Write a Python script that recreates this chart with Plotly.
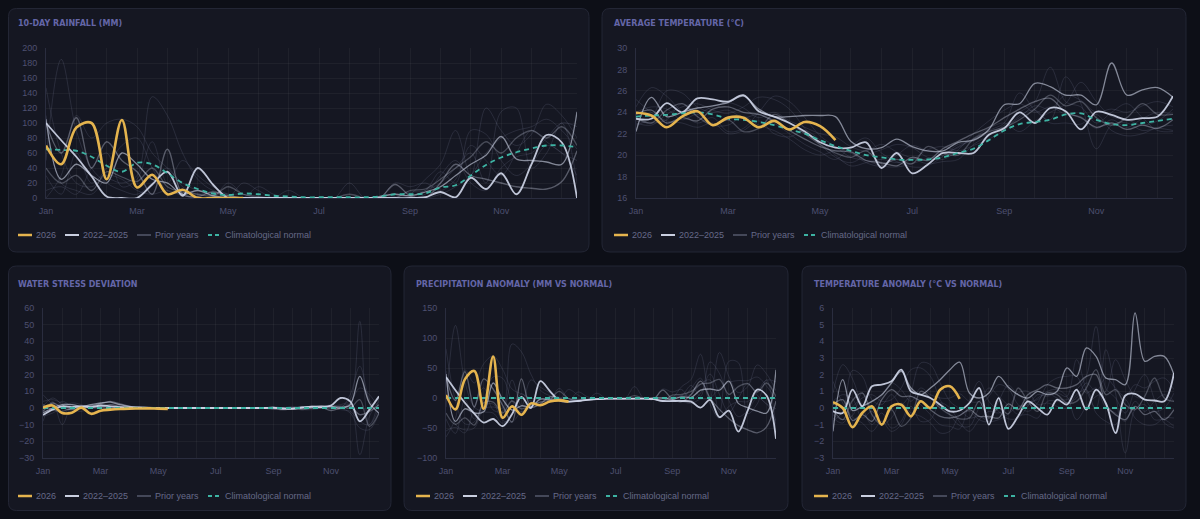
import plotly.graph_objects as go

# the page keeps the browser's 8px body margin, so the figure is 16px smaller
W, H = 1200, 519
OFF = 8
FW, FH = W - 2 * OFF, H - 2 * OFF

# dekads (10-day periods) of the year
DEKAD = list(range(36))
TICK_POS = list(range(0, 36, 2))
TICK_TEXT = ["Jan", "", "", "Mar", "", "", "May", "", "", "Jul", "", "", "Sep", "", "", "Nov", "", ""]

LEGEND_LABELS = ["2026", "2022\u20132025", "Prior years", "Climatological normal"]

# 10-day rainfall (mm)
RAIN_2026 = [70, 45, 94, 100, 25, 104, 14, 31, 5, 11, 0, 0, 0, 0]
RAIN_NORMAL = [65, 64, 63, 55, 43, 35, 47, 45, 33, 20, 12, 6, 4, 6, 5, 3, 2, 1, 1, 1, 1, 1, 2, 5, 5, 6, 14, 17, 30, 44, 54, 61, 66, 70, 70, 68]
RAIN_2025 = [100, 77, 55, 29, 2, 0, 0, 18, 35, 3, 40, 18, 0, 0, 0, 0, 0, 0, 0, 0, 0, 0, 0, 0, 0, 1, 8, 1, 27, 12, 33, 5, 45, 84, 74, 0]
RAIN_2024 = [105, 25, 45, 30, 20, 60, 45, 25, 20, 5, 10, 3, 0, 0, 0, 0, 0, 0, 0, 0, 0, 0, 2, 5, 3, 8, 15, 30, 45, 57, 82, 52, 50, 48, 45, 115]
RAIN_2023 = [100, 60, 107, 40, 75, 50, 35, 5, 65, 5, 2, 8, 3, 0, 0, 0, 0, 0, 0, 0, 0, 0, 0, 18, 3, 0, 20, 45, 30, 25, 20, 15, 13, 12, 22, 63]
RAIN_2022 = [40, 20, 30, 10, 35, 28, 22, 40, 15, 8, 5, 3, 15, 5, 2, 0, 0, 0, 0, 0, 5, 0, 0, 0, 10, 12, 25, 40, 55, 75, 60, 80, 90, 80, 95, 70]
RAIN_PRIOR = [
    [147, 60, 20, 15, 30, 25, 10, 5, 10, 3, 0, 0, 20, 5, 0, 0, 0, 0, 0, 0, 0, 0, 0, 0, 0, 5, 30, 50, 20, 10, 40, 55, 60, 80, 100, 95],
    [50, 185, 90, 40, 20, 10, 5, 20, 40, 15, 5, 8, 0, 0, 15, 5, 0, 0, 0, 0, 0, 0, 0, 20, 15, 20, 10, 25, 70, 50, 30, 60, 90, 75, 60, 50],
    [0, 30, 110, 80, 100, 105, 95, 60, 40, 20, 10, 5, 3, 0, 0, 0, 0, 0, 0, 0, 0, 0, 0, 0, 5, 25, 45, 90, 30, 120, 90, 70, 85, 125, 110, 80],
    [110, 20, 10, 5, 25, 20, 30, 135, 110, 60, 25, 10, 5, 5, 0, 0, 10, 0, 0, 0, 0, 0, 0, 0, 0, 10, 20, 40, 60, 20, 115, 120, 40, 60, 100, 20],
    [10, 15, 5, 40, 60, 15, 25, 75, 20, 50, 30, 15, 5, 0, 0, 0, 0, 0, 0, 0, 20, 0, 0, 0, 0, 0, 5, 15, 30, 60, 80, 90, 95, 105, 90, 65],
    [30, 5, 60, 20, 40, 70, 80, 40, 10, 5, 0, 0, 0, 20, 10, 0, 0, 0, 0, 0, 0, 0, 0, 2, 8, 10, 35, 20, 90, 85, 50, 30, 45, 70, 60, 30],
]

# average temperature (°C)
TEMP_2026 = [23.95, 23.7, 22.6, 23.6, 24.1, 22.8, 23.5, 23.5, 22.6, 23.2, 22.4, 23.1, 22.7, 21.4]
TEMP_NORMAL = [23.6, 23.7, 23.75, 23.9, 24.0, 23.8, 23.4, 23.3, 23.1, 22.8, 22.4, 22.0, 21.4, 20.85, 20.4, 20.0, 19.8, 19.6, 19.55, 19.6, 19.8, 20.2, 20.6, 21.4, 22.3, 22.9, 23.1, 23.3, 23.8, 23.9, 23.3, 22.9, 22.8, 23.0, 23.2, 23.4]
TEMP_2025 = [23.4, 23.4, 24.85, 24.0, 25.3, 25.2, 25.0, 25.6, 24.1, 23.6, 23.0, 22.2, 21.2, 20.7, 20.7, 21.2, 18.8, 20.2, 18.3, 19.1, 20.2, 20.2, 20.2, 21.9, 22.5, 24.0, 23.0, 24.4, 24.1, 22.4, 24.05, 23.75, 23.3, 23.45, 23.6, 25.5]
TEMP_2024 = [22.2, 25.4, 23.6, 24.0, 24.4, 24.6, 24.9, 25.5, 24.3, 23.6, 23.6, 23.7, 23.7, 23.6, 21.3, 20.6, 20.7, 21.5, 20.8, 20.4, 20.4, 21.2, 21.4, 22.4, 24.7, 24.8, 26.7, 26.4, 25.6, 25.6, 24.7, 28.6, 25.6, 26.1, 26.3, 25.4]
TEMP_2023 = [23.8, 24.2, 23.0, 23.5, 23.2, 24.3, 24.5, 24.0, 23.8, 23.2, 22.3, 21.5, 20.8, 20.4, 20.3, 19.5, 19.3, 19.0, 19.8, 19.5, 20.6, 21.3, 22.0, 22.6, 23.5, 24.3, 25.0, 25.3, 24.0, 23.5, 22.6, 23.0, 22.4, 22.8, 22.5, 23.3]
TEMP_2022 = [23.5, 23.0, 24.2, 24.8, 23.6, 22.8, 23.3, 22.2, 22.5, 23.8, 23.0, 22.0, 21.0, 20.2, 19.8, 20.4, 19.2, 19.6, 19.2, 20.8, 20.2, 20.0, 21.5, 22.2, 22.6, 23.3, 24.3, 25.6, 24.6, 25.0, 23.5, 22.8, 23.5, 24.8, 23.8, 23.8]
TEMP_PRIOR = [
    [24.5, 26.3, 25.5, 24.0, 23.0, 23.5, 22.2, 22.5, 24.0, 25.5, 25.0, 23.5, 21.8, 20.8, 19.8, 19.5, 19.0, 18.9, 19.2, 19.7, 20.0, 20.8, 21.5, 22.0, 22.8, 24.0, 25.0, 28.2, 25.0, 24.5, 23.0, 24.0, 24.8, 23.5, 22.3, 22.2],
    [22.8, 23.5, 26.0, 25.8, 24.5, 24.0, 24.2, 23.5, 23.8, 23.0, 22.0, 21.0, 20.3, 19.6, 20.8, 21.6, 20.2, 19.4, 18.9, 19.0, 19.9, 21.0, 21.3, 22.3, 23.0, 25.8, 24.2, 23.3, 27.3, 24.8, 20.6, 22.8, 23.0, 22.3, 22.5, 22.3],
    [23.0, 22.8, 23.8, 24.5, 24.8, 24.2, 23.9, 24.5, 25.4, 25.2, 24.3, 22.5, 21.0, 19.8, 19.3, 20.0, 20.5, 21.0, 20.7, 19.8, 19.6, 20.5, 22.0, 23.2, 24.2, 24.8, 24.0, 24.5, 23.8, 23.6, 22.5, 23.3, 22.6, 23.4, 24.0, 23.8],
    [24.0, 24.5, 24.3, 23.3, 23.8, 22.8, 22.8, 23.6, 22.8, 22.3, 21.5, 20.5, 20.0, 20.4, 20.2, 19.3, 19.0, 20.0, 20.9, 20.4, 20.2, 20.7, 21.6, 22.5, 23.0, 22.2, 23.2, 24.0, 24.8, 26.8, 25.0, 23.6, 23.3, 22.8, 23.2, 24.3],
    [25.2, 24.0, 23.2, 23.0, 22.6, 23.0, 22.0, 22.3, 23.2, 22.0, 21.7, 22.3, 21.4, 20.0, 19.0, 19.3, 19.6, 19.3, 19.6, 20.5, 20.8, 20.4, 20.9, 21.5, 22.3, 23.7, 24.2, 23.0, 23.0, 22.9, 23.8, 22.3, 21.8, 22.0, 22.6, 22.8],
    [23.2, 23.0, 23.3, 24.8, 24.0, 24.5, 24.9, 24.4, 23.5, 24.0, 23.2, 22.6, 22.0, 21.7, 20.8, 20.4, 21.0, 20.3, 19.7, 19.2, 19.4, 19.6, 21.0, 21.8, 22.6, 23.5, 24.6, 24.3, 25.6, 25.1, 24.0, 24.3, 24.0, 24.6, 25.0, 24.5],
]

# water stress deviation
WS_2026 = [0.2, 1.5, -3.0, -2.8, 0.2, -3.5, -1.6, -1.0, -0.6, -0.4, -0.3, -0.2, -0.4, -0.5]
WS_NORMAL = [0] * 36
WS_2025 = [-4.2, -1, 1, 0.5, 1, 0.5, 1.5, 1, 0.5, 0.3, 0.2, 0.1, 0, 0, 0, 0, 0, 0, 0, 0, 0, 0, 0, 0, 0.2, -0.3, -0.5, 0.3, 0.8, 0.5, 1.5, 6, 4, -8, -1, 7]
WS_2024 = [-3, 0, 2, 2, 1, 2, 3, 3.5, 2, 1, 0.5, 0.3, 0.2, 0, 0, 0, 0, 0, 0, 0, 0, 0, 0, 0, 0, -0.5, 0, 0.5, 1, 1.2, 1, 0, 2, 19, 3, -3]
WS_2023 = [-2, 3, 0, -1, 0.5, 1, 2.5, 4, 2.5, 1, 0.5, 0.2, 0, 0, 0, 0, 0, 0, 0, 0, 0, 0, 0, 0, -0.5, -1, -0.5, 0, 0.5, 0.5, -1.5, 0, 1, -4, -2, 2]
WS_2022 = [2, -1, -2, 0, 1, 1.5, 1, 2, 1, 0.5, 0, 0, 0, 0, 0, 0, 0, 0, 0, 0, 0, 0, 0, 0, 0.5, 0, -0.5, -1, 0, 1, 0.5, 1, 0, 5, -11, -3]
WS_PRIOR = [
    [8, 2, -3, 0, 1, 1, 0, 2, 1, 0, 0, 0, 0, 0, 0, 0, 0, 0, 0, 0, 0, 0, 0, 0, 0, 0, 0, 0, 0.5, 0, 1, 2, 5, 52, -10, 0],
    [-8, 4, -10, 1, 0, 0, 1, 0, 0, 0, 0, 0, 0, 0, 0, 0, 0, 0, 0, 0, 0, 0, 0, 0, 0, 0, 0, 0, 0, 0, 0, 1, 2, -28, -5, 4],
    [4, 5, 3, 2, 1, 0, 0, 1, 0, 0, 0, 0, 0, 0, 0, 0, 0, 0, 0, 0, 0, 0, 0, 0, 0, 0, 0, -1, -1, 0, 2, 0, -3, -12, -13, -3],
    [-5, -3, 0, 3, 2, 0, 1, 1, 0, 0, 0, 0, 0, 0, 0, 0, 0, 0, 0, 0, 0, 0, 0, 0, 0, 0, 1, 0, 0, 0, 1, 0, 3, 12, 8, 0],
    [1, 6, 2, -1, -2, 0, 0, 0, 0, 0, 0, 0, 0, 0, 0, 0, 0, 0, 0, 0, 0, 0, 0, 0, 0, 0, 0, 0, 0, 0, 0, -1, -2, -8, -10, 6],
    [-2, -1, 4, 1, 0, 1, 0, 0, 1, 0, 0, 0, 0, 0, 0, 0, 0, 0, 0, 0, 0, 0, 0, 0, 0, -1, 0, 1, 0, 0, 0, 0, 8, 25, 5, -4],
]


def anomaly(series, normal):
    return [round(v - n, 2) for v, n in zip(series, normal)]


BG = "#0d0f17"
CARD = "#151722"
CARD_EDGE = "#232635"
GRID = "rgba(255,255,255,0.045)"
AXIS_LINE = "#2a2d3f"
TICK_COLOR = "#4d5070"
LEGEND_COLOR = "#666a88"
TITLE_COLOR = "#6466a8"
GOLD = "#e5b44e"
TEAL = "#3db3a3"
RECENT_RGB = "205,212,230"
RECENT_ALPHA = [0.92, 0.6, 0.36, 0.28]
PRIOR_COLOR = "rgba(125,130,158,0.2)"


def fx(px):
    return (px - OFF) / FW


def fy(py):
    return 1 - (py - OFF) / FH


def rounded_card(l, t, r, b, rad=8):
    l, t = max(l, OFF + 0.5), max(t, OFF + 0.5)
    r, b = min(r, W - OFF - 0.5), min(b, H - OFF - 0.5)
    p = [
        f"M{fx(l + rad)},{fy(t)}", f"L{fx(r - rad)},{fy(t)}",
        f"Q{fx(r)},{fy(t)} {fx(r)},{fy(t + rad)}", f"L{fx(r)},{fy(b - rad)}",
        f"Q{fx(r)},{fy(b)} {fx(r - rad)},{fy(b)}", f"L{fx(l + rad)},{fy(b)}",
        f"Q{fx(l)},{fy(b)} {fx(l)},{fy(b - rad)}", f"L{fx(l)},{fy(t + rad)}",
        f"Q{fx(l)},{fy(t)} {fx(l + rad)},{fy(t)}", "Z",
    ]
    return " ".join(p)


fig = go.Figure()
shapes = []
annotations = []

# (card box, plot box) in page pixels: left, top, right, bottom
panels = [
    dict(card=(6, 6, 589, 252), plot=(46, 48, 577, 198), title="10-DAY RAINFALL (MM)",
         yr=(0, 200), dt=20, cur=RAIN_2026, recent=[RAIN_2025, RAIN_2024, RAIN_2023, RAIN_2022],
         prior=RAIN_PRIOR, normal=RAIN_NORMAL),
    dict(card=(602, 6, 1186, 252), plot=(636, 48, 1173, 198), title="AVERAGE TEMPERATURE (\u00b0C)",
         yr=(16, 30), dt=2, cur=TEMP_2026, recent=[TEMP_2025, TEMP_2024, TEMP_2023, TEMP_2022],
         prior=TEMP_PRIOR, normal=TEMP_NORMAL),
    dict(card=(6, 266, 391, 513), plot=(43, 308, 379, 458), title="WATER STRESS DEVIATION",
         yr=(-30, 60), dt=10, cur=WS_2026, recent=[WS_2025, WS_2024, WS_2023, WS_2022],
         prior=WS_PRIOR, normal=WS_NORMAL),
    dict(card=(404, 266, 788, 513), plot=(446, 308, 776, 458), title="PRECIPITATION ANOMALY (MM VS NORMAL)",
         yr=(-100, 150), dt=50, cur=anomaly(RAIN_2026, RAIN_NORMAL),
         recent=[anomaly(s, RAIN_NORMAL) for s in [RAIN_2025, RAIN_2024, RAIN_2023, RAIN_2022]],
         prior=[anomaly(s, RAIN_NORMAL) for s in RAIN_PRIOR], normal=anomaly(RAIN_NORMAL, RAIN_NORMAL)),
    dict(card=(802, 266, 1186, 513), plot=(833, 308, 1174, 458), title="TEMPERATURE ANOMALY (\u00b0C VS NORMAL)",
         yr=(-3, 6), dt=1, cur=anomaly(TEMP_2026, TEMP_NORMAL),
         recent=[anomaly(s, TEMP_NORMAL) for s in [TEMP_2025, TEMP_2024, TEMP_2023, TEMP_2022]],
         prior=[anomaly(s, TEMP_NORMAL) for s in TEMP_PRIOR], normal=anomaly(TEMP_NORMAL, TEMP_NORMAL)),
]

# legend swatch / text offsets from the card's left edge
SWATCH_X = [12, 59, 131, 202]
TEXT_X = [28, 75, 147, 217]
SWATCHES = [
    dict(color=GOLD, width=2.5),
    dict(color="#c9cfe0", width=2),
    dict(color="#444859", width=2),
    dict(color=TEAL, width=2, dash="4px,3px"),
]

layout_axes = {}
for k, p in enumerate(panels, start=1):
    sfx = "" if k == 1 else str(k)
    xa, ya = "x" + sfx, "y" + sfx
    l, t, r, b = p["plot"]
    common = dict(hoverinfo="skip", xaxis=xa, yaxis=ya, showlegend=False, mode="lines")

    for s in p["prior"]:
        fig.add_trace(go.Scatter(x=DEKAD, y=s, line=dict(color=PRIOR_COLOR, width=1, shape="spline", smoothing=1), **common))
    for j in reversed(range(len(p["recent"]))):
        fig.add_trace(go.Scatter(
            x=DEKAD, y=p["recent"][j],
            line=dict(color=f"rgba({RECENT_RGB},{RECENT_ALPHA[j]})", width=1.8 if j == 0 else 1.3,
                      shape="spline", smoothing=1),
            **common))
    fig.add_trace(go.Scatter(x=DEKAD, y=p["normal"],
                             line=dict(color=TEAL, width=1.8, dash="5px,4px", shape="spline", smoothing=1), **common))
    fig.add_trace(go.Scatter(x=DEKAD[:len(p["cur"])], y=p["cur"],
                             line=dict(color=GOLD, width=2.6, shape="spline", smoothing=1), **common))

    layout_axes["xaxis" + sfx] = dict(
        domain=[fx(l), fx(r)], anchor=ya, range=[0, 35], tickmode="array",
        tickvals=TICK_POS, ticktext=TICK_TEXT, showgrid=True, gridcolor=GRID, gridwidth=1,
        zeroline=False, showline=True, linecolor=AXIS_LINE, ticks="", ticklabelstandoff=4,
        tickfont=dict(size=9, color=TICK_COLOR), fixedrange=True, automargin=False)
    layout_axes["yaxis" + sfx] = dict(
        domain=[fy(b), fy(t)], anchor=xa, range=list(p["yr"]), dtick=p["dt"], tick0=p["yr"][0],
        showgrid=True, gridcolor=GRID, gridwidth=1, zeroline=False, showline=True,
        linecolor=AXIS_LINE, ticks="", ticklabelstandoff=6,
        tickfont=dict(size=9, color=TICK_COLOR), fixedrange=True, automargin=False)

    cl, ct, cr, cb = p["card"]
    shapes.append(dict(type="path", xref="paper", yref="paper", path=rounded_card(cl, ct, cr, cb),
                       fillcolor=CARD, line=dict(color=CARD_EDGE, width=1), layer="below"))
    annotations.append(dict(
        text=p["title"], x=fx(cl + 10), y=fy(ct + 18), xref="paper", yref="paper",
        xanchor="left", yanchor="middle", showarrow=False,
        font=dict(family="DejaVu Sans", size=8, color=TITLE_COLOR, weight="bold")))

    ly = cb - 17
    for label, sx, tx, sw in zip(LEGEND_LABELS, SWATCH_X, TEXT_X, SWATCHES):
        shapes.append(dict(type="line", xref="paper", yref="paper",
                           x0=fx(cl + sx), x1=fx(cl + sx + 14), y0=fy(ly), y1=fy(ly), line=sw))
        annotations.append(dict(
            text=label, x=fx(cl + tx), y=fy(ly), xref="paper", yref="paper",
            xanchor="left", yanchor="middle", showarrow=False,
            font=dict(size=9, color=LEGEND_COLOR)))

fig.update_layout(
    width=FW, height=FH,
    margin=dict(l=0, r=0, t=0, b=0, autoexpand=False),
    paper_bgcolor=BG, plot_bgcolor="rgba(0,0,0,0)",
    font=dict(family="Liberation Sans, Arial, sans-serif", size=9, color=TICK_COLOR),
    showlegend=False,
    shapes=shapes,
    annotations=annotations,
    **layout_axes,
)

fig.write_html(
    "out.html",
    config=dict(displayModeBar=False),
    post_script="document.body.style.background='#0d0f17';document.documentElement.style.background='#0d0f17';",
)
